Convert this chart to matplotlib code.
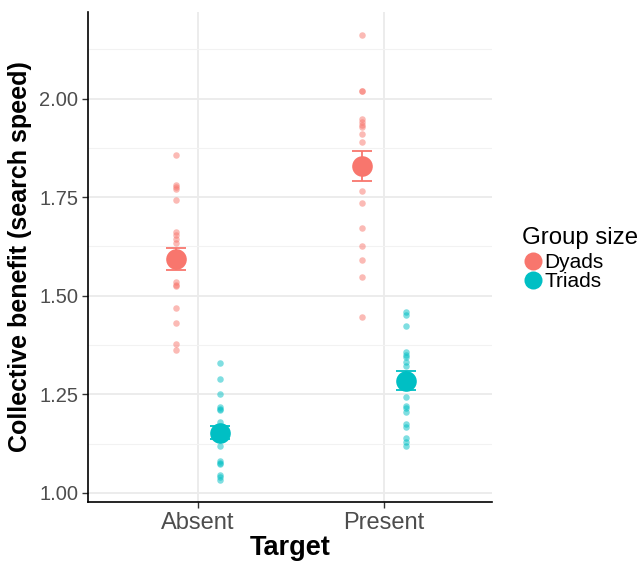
import matplotlib
matplotlib.use("Agg")
from matplotlib import pyplot as plt
from matplotlib.lines import Line2D

plt.rcParams['font.family'] = ['Liberation Sans', 'DejaVu Sans']

targets = ["Absent", "Present"]
groups = ["Dyads", "Triads"]
colors = {"Dyads": "#F8766D", "Triads": "#00BFC4"}

# individual values
dyads_absent = [1.858, 1.782, 1.776, 1.771, 1.742, 1.662, 1.653, 1.645, 1.635,
                1.535, 1.528, 1.524, 1.469, 1.432, 1.378, 1.363]
dyads_present = [2.162, 2.020, 2.018, 1.949, 1.940, 1.934, 1.928, 1.909, 1.889,
                 1.765, 1.734, 1.672, 1.627, 1.590, 1.547, 1.447]
triads_absent = [1.329, 1.289, 1.251, 1.219, 1.213, 1.209, 1.181, 1.150, 1.118,
                 1.082, 1.077, 1.074, 1.046, 1.040, 1.033]
triads_present = [1.460, 1.452, 1.422, 1.357, 1.350, 1.344, 1.333, 1.323, 1.244,
                  1.221, 1.215, 1.206, 1.175, 1.168, 1.139, 1.130, 1.120]

# group means and standard errors
dyads_mean = [1.594, 1.828]
dyads_se = [0.028, 0.038]
triads_mean = [1.153, 1.285]
triads_se = [0.017, 0.023]

points = {"Dyads": [dyads_absent, dyads_present],
          "Triads": [triads_absent, triads_present]}
means = {"Dyads": dyads_mean, "Triads": triads_mean}
ses = {"Dyads": dyads_se, "Triads": triads_se}
dodge = {"Dyads": -0.118, "Triads": 0.118}


def main():
    fig = plt.figure(figsize=(6.44, 5.64), dpi=100)
    ax = fig.add_axes([0.1366, 0.110, 0.6274, 0.869])

    for g in groups:
        for i, vals in enumerate(points[g]):
            x = i + 1 + dodge[g]
            ax.scatter([x] * len(vals), vals, s=22, color=colors[g], alpha=0.5,
                       linewidths=0, zorder=3)
        xs = [i + 1 + dodge[g] for i in range(len(targets))]
        ax.errorbar(xs, means[g], yerr=ses[g], fmt="none", ecolor=colors[g],
                    elinewidth=1.3, capsize=7, capthick=1.3, zorder=4)
        ax.scatter(xs, means[g], s=220, color=colors[g], linewidths=0, zorder=5)

    ax.set_xlim(0.41, 2.58)
    ax.set_ylim(0.977, 2.22)
    ax.set_xticks([1, 2])
    ax.set_xticklabels(targets)
    ax.set_yticks([1.00, 1.25, 1.50, 1.75, 2.00])
    ax.set_yticklabels(["1.00", "1.25", "1.50", "1.75", "2.00"])
    ax.set_yticks([1.125, 1.375, 1.625, 1.875, 2.125], minor=True)

    ax.grid(True, which="major", color="#ebebeb", linewidth=1.3, zorder=0)
    ax.grid(True, which="minor", axis="y", color="#f2f2f2", linewidth=0.8, zorder=0)
    ax.set_axisbelow(True)

    for side in ["top", "right"]:
        ax.spines[side].set_visible(False)
    for side in ["left", "bottom"]:
        ax.spines[side].set_color("black")
        ax.spines[side].set_linewidth(1.2)

    ax.tick_params(axis="y", which="major", labelsize=14.5, labelcolor="#4d4d4d",
                   color="#333333", length=4, width=1, pad=3)
    ax.tick_params(axis="x", which="major", labelsize=17, labelcolor="#4d4d4d",
                   color="#333333", length=4, width=1, pad=3)
    ax.tick_params(which="minor", length=0)

    ax.set_xlabel("Target", fontsize=19.5, fontweight="bold", labelpad=1)
    ax.set_ylabel("Collective benefit (search speed)", fontsize=18,
                  fontweight="bold", labelpad=5)

    # legend title drawn on its own so it sits flush left with the keys
    fig.text(0.8106, 1 - 244 / 564, "Group size", fontsize=17.3, va="baseline",
             ha="left")
    handles = [Line2D([], [], marker="o", linestyle="none", markersize=13,
                      markerfacecolor=colors[g], markeredgecolor="none", label=g)
               for g in groups]
    fig.legend(handles=handles, loc="upper left",
               bbox_to_anchor=(0.811, 1 - 253 / 564), frameon=False, fontsize=15,
               handletextpad=0.05, labelspacing=0.0,
               borderpad=0, handlelength=1.0, borderaxespad=0)

    fig.savefig("out.png", dpi=100)


if __name__ == '__main__':
    main()
